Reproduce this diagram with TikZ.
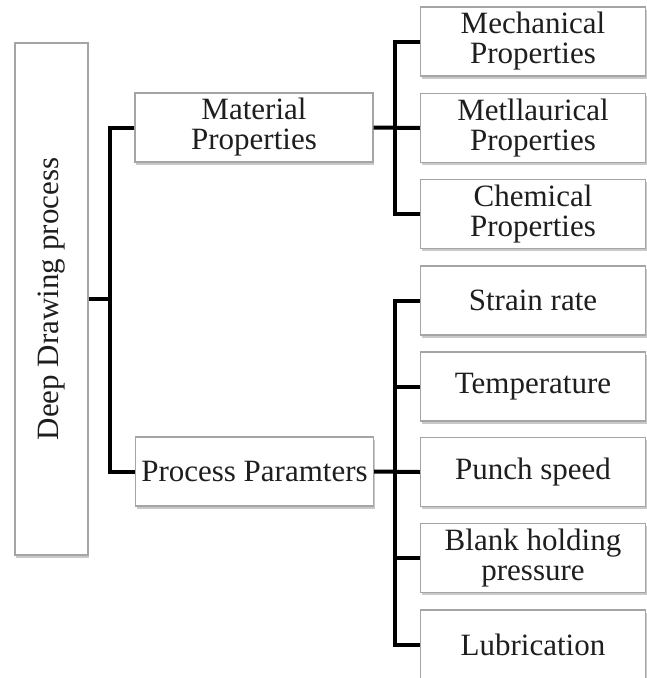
\documentclass[tikz,border=0pt]{standalone}
\usepackage{fontspec}
\setmainfont{Liberation Serif}
\usetikzlibrary{shadows}
\definecolor{boxline}{RGB}{165,165,165}
\definecolor{inktext}{RGB}{30,30,30}
\tikzset{
  box/.style={draw=boxline, line width=1.4pt, fill=white, align=center,
    text=inktext, inner sep=0pt,
    font=\fontsize{31}{30}\selectfont,
    drop shadow={shadow xshift=1pt, shadow yshift=-2.5pt, opacity=0.35, fill=black!60}},
  midbox/.style={box, minimum width=238pt, minimum height=69pt},
  leafbox/.style={box, minimum width=225pt, minimum height=69pt},
  link/.style={draw=black, line width=4pt}
}
\begin{document}
\begin{tikzpicture}[x=1pt, y=-1pt]
  \path[use as bounding box, clip] (0,0) rectangle (647,678);
  \fill[white] (0,0) rectangle (647,678);

  % root
  \node[box, minimum width=73pt, minimum height=512pt] (root) at (51.5,299) {};
  \node[rotate=90, text=inktext, font=\fontsize{31}{30}\selectfont] (roottext) at (root.center) {Deep Drawing process};

  % second level
  \node[midbox] (mat) at (254,127.5) {Material\\Properties};
  \node[midbox] (proc) at (254.5,471.5) {Process Paramters};

  % material properties
  \node[leafbox] (m1) at (533,41.5) {Mechanical\\Properties};
  \node[leafbox] (m2) at (533,128) {Metllaurical\\Properties};
  \node[leafbox] (m3) at (533,214) {Chemical\\Properties};

  % process parameters
  \node[leafbox] (p1) at (533,300.5) {Strain rate};
  \node[leafbox] (p2) at (533,386.5) {Temperature};
  \node[leafbox] (p3) at (533,472) {Punch speed};
  \node[leafbox] (p4) at (533,558) {Blank holding\\pressure};
  \node[leafbox] (p5) at (533,644.5) {Lubrication};

  % junctions
  \coordinate (rj) at (110,299);
  \coordinate (mj) at (395,128);
  \coordinate (pj) at (395,472);

  % connectors
  \draw[link] (root.east) -- (rj);
  \draw[link] (mat.west) -| (rj) |- (proc.west);

  \draw[link] (mat.east) -- (m2.west);
  \draw[link] (m1.west) -| (mj) |- (m3.west);

  \draw[link] (proc.east) -- (p3.west);
  \draw[link] (p1.west) -| (pj) |- (p5.west);
  \draw[link] (pj |- p2.west) -- (p2.west);
  \draw[link] (pj |- p4.west) -- (p4.west);
\end{tikzpicture}
\end{document}
